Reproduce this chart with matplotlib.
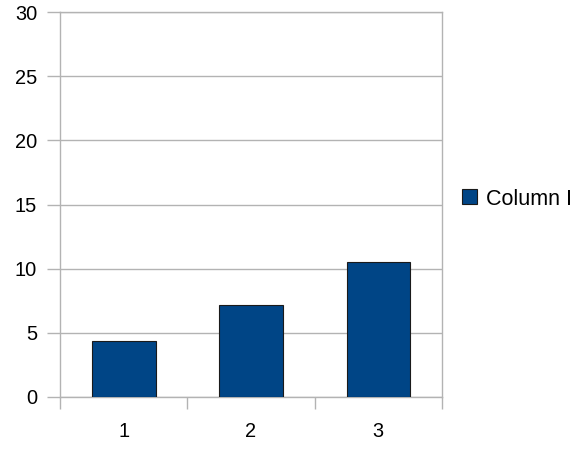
import matplotlib
matplotlib.use("Agg")
import matplotlib.pyplot as plt
import numpy as np

categories = ["1", "2", "3"]
values = [4.35, 7.13, 10.5]
series_name = "Column I"
y_ticks = [0, 5, 10, 15, 20, 25, 30]

plt.rcParams["font.family"] = ["Liberation Sans", "DejaVu Sans"]
FS = 14.4
LEG_FS = 15.5
GRID = "#b3b3b3"

fig = plt.figure(figsize=(5.84, 4.5), dpi=100)
ax = fig.add_axes([60 / 584, 53 / 450, 382 / 584, 385 / 450])

x = np.arange(1, len(categories) + 1)
ax.bar(x, values, width=0.5, color="#004586", edgecolor="#1a1a1a",
       linewidth=0.8, label=series_name, zorder=3)

ax.set_xlim(0.5, len(categories) + 0.5)
ax.set_ylim(0, 30)
ax.set_yticks(y_ticks)
ax.yaxis.grid(True, color=GRID, linewidth=1.0, zorder=0)
ax.tick_params(axis="y", length=9.4, width=1.0, color=GRID, pad=7,
               labelsize=FS, direction="out")

# category boundaries carry the tick marks, centers carry the labels
ax.set_xticks(np.arange(0.5, len(categories) + 1, 1.0))
ax.set_xticklabels([])
ax.set_xticks(x, minor=True)
ax.set_xticklabels(categories, minor=True)
ax.tick_params(axis="x", which="major", length=8.6, width=1.0, color=GRID,
               direction="out")
ax.tick_params(axis="x", which="minor", length=0, pad=18, labelsize=FS)

for s in ax.spines.values():
    s.set_color(GRID)
    s.set_linewidth(1.0)

fig.legend(loc="center left", bbox_to_anchor=(462 / 584, 1 - 199 / 450),
           frameon=False, fontsize=LEG_FS, handlelength=15 / 21.5,
           handleheight=15 / 21.5, handletextpad=9 / 21.5, borderpad=0,
           borderaxespad=0)

fig.savefig("out.png", dpi=100)
